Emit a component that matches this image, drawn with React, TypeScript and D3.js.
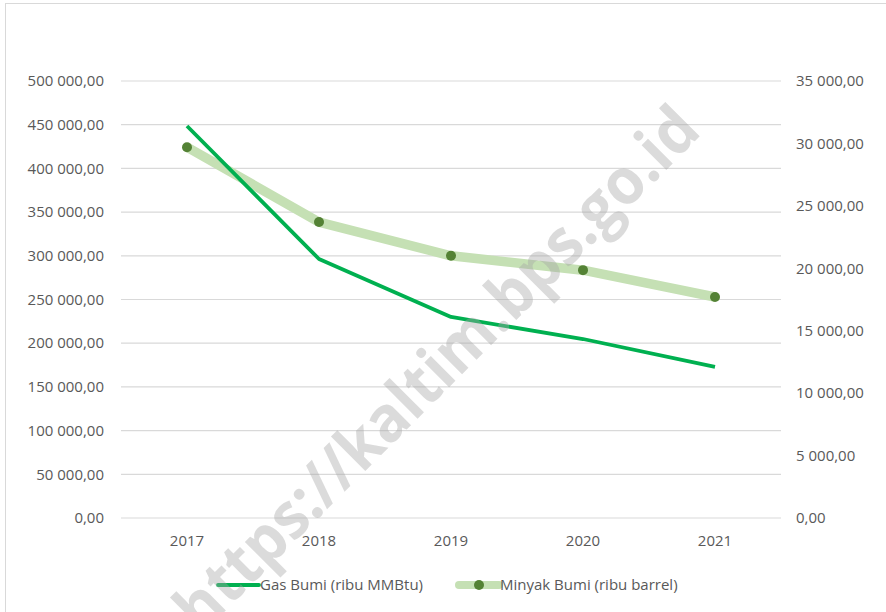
import React from "react";
import * as d3 from "d3";

const years = ["2017", "2018", "2019", "2020", "2021"];
const gasBumi = [448500, 296300, 230000, 204800, 172800];
const minyakBumi = [29700, 23700, 21000, 19850, 17700];
const leftTicks = [0, 50000, 100000, 150000, 200000, 250000, 300000, 350000, 400000, 450000, 500000];
const rightTicks = [0, 5000, 10000, 15000, 20000, 25000, 30000, 35000];
const seriesNames = ["Gas Bumi (ribu MMBtu)", "Minyak Bumi (ribu barrel)"];
const watermark = "https://kaltim.bps.go.id";

const W = 886;
const H = 612;
const left = 121;
const right = 781;
const top = 81;
const bottom = 518;

const fmt = (v: number) => {
  const s = Math.round(v).toString().replace(/\B(?=(\d{3})+(?!\d))/g, " ");
  return s + ",00";
};

export default function App() {
  const x = d3.scaleBand<string>().domain(years).range([left, right]);
  const yL = d3.scaleLinear().domain([0, 500000]).range([bottom, top]);
  const yR = d3.scaleLinear().domain([0, 35000]).range([bottom, top]);
  const cx = (d: string) => (x(d) as number) + x.bandwidth() / 2;

  const gasLine = d3
    .line<number>()
    .x((_, i) => cx(years[i]))
    .y((d) => yL(d));
  const oilLine = d3
    .line<number>()
    .x((_, i) => cx(years[i]))
    .y((d) => yR(d));

  const font = "'Open Sans', sans-serif";
  const textColor = "#595959";
  const fs = 15;

  return (
    <svg
      width={W}
      height={H}
      style={{ position: "absolute", left: 0, top: 0, display: "block" }}
      fontFamily={font}
    >
      <rect x={0} y={0} width={W} height={H} fill="#fff" />
      <rect x={5.5} y={3.5} width={W + 10} height={H + 10} fill="#fff" stroke="#d9d9d9" strokeWidth={1} />

      {leftTicks.map((t) => (
        <g key={"l" + t}>
          <line x1={left} x2={right} y1={yL(t)} y2={yL(t)} stroke="#d9d9d9" strokeWidth={1.2} />
          <text x={104} y={yL(t)} dy="0.35em" textAnchor="end" fontSize={fs} fill={textColor}>
            {fmt(t)}
          </text>
        </g>
      ))}
      {rightTicks.map((t) => (
        <text key={"r" + t} x={796} y={yR(t)} dy="0.35em" textAnchor="start" fontSize={fs} fill={textColor}>
          {fmt(t)}
        </text>
      ))}
      {years.map((y) => (
        <text key={y} x={cx(y)} y={546} textAnchor="middle" fontSize={fs} fill={textColor}>
          {y}
        </text>
      ))}

      <path d={oilLine(minyakBumi) || ""} fill="none" stroke="#C5E0B4" strokeWidth={9.5} strokeLinejoin="round" />
      {minyakBumi.map((v, i) => (
        <circle key={i} cx={cx(years[i])} cy={yR(v)} r={5} fill="#548235" />
      ))}
      <path d={gasLine(gasBumi) || ""} fill="none" stroke="#00B050" strokeWidth={3.8} strokeLinejoin="round" />

      {/* legend */}
      <line x1={218} x2={259} y1={585} y2={585} stroke="#00B050" strokeWidth={3.8} strokeLinecap="round" />
      <text x={260} y={585} dy="0.35em" fontSize={fs} fill={textColor}>
        {seriesNames[0]}
      </text>
      <line x1={459} x2={499} y1={585} y2={585} stroke="#C5E0B4" strokeWidth={8} strokeLinecap="round" />
      <circle cx={479} cy={585} r={5} fill="#548235" />
      <text x={500} y={585} dy="0.35em" fontSize={fs} fill={textColor}>
        {seriesNames[1]}
      </text>

      {/* watermark */}
      <text
        x={440}
        y={372}
        transform="rotate(-45 440 372)"
        textAnchor="middle"
        dominantBaseline="middle"
        fontSize={64}
        fontWeight="bold"
        fontFamily="'Open Sans', sans-serif"
        fill="#a6a6a6"
        fillOpacity={0.4}
        textLength={710}
        lengthAdjust="spacingAndGlyphs"
      >
        {watermark}
      </text>
    </svg>
  );
}
